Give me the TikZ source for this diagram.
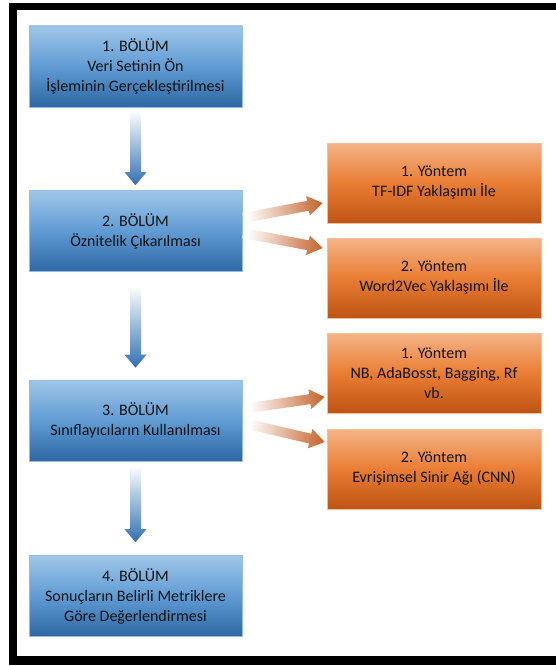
\documentclass[tikz,border=0pt]{standalone}
\usepackage{fontspec}
\setmainfont{Carlito}
\usetikzlibrary{calc}
\definecolor{bluetop}{RGB}{160,198,232}
\definecolor{bluemid}{RGB}{96,155,212}
\definecolor{bluebot}{RGB}{46,104,164}
\definecolor{blueedge}{RGB}{150,188,225}
\definecolor{ortop}{RGB}{245,180,135}
\definecolor{ormid}{RGB}{234,125,52}
\definecolor{orbot}{RGB}{190,84,20}
\definecolor{oredge}{RGB}{246,190,150}
\definecolor{arrblue}{RGB}{50,112,178}
\definecolor{arror}{RGB}{200,108,55}
\definecolor{textc}{RGB}{20,20,20}
\newcommand\fatarr[6]{%
  \coordinate (#1#2h) at ($(#2)!#5!(#1)$);
  \path[#6] ($(#1)!#3!90:(#2)$) -- ($(#1#2h)!#3!90:(#2)$) -- ($(#1#2h)!#4!90:(#2)$)
    -- (#2) -- ($(#1#2h)!#4!-90:(#2)$) -- ($(#1#2h)!#3!-90:(#2)$) -- ($(#1)!#3!-90:(#2)$) -- cycle;
}
\tikzset{
  boxtext/.style={rectangle, align=center, inner sep=0pt, text=textc,
    font=\fontsize{16}{20}\selectfont, line width=0.6pt},
  bluebox/.style={boxtext, minimum width=213pt, minimum height=81pt,
    draw=blueedge, top color=bluetop, bottom color=bluebot, middle color=bluemid},
  orbox/.style={boxtext, minimum width=214pt, minimum height=80pt,
    draw=oredge, top color=ortop, bottom color=orbot, middle color=ormid},
  framebar/.style={fill=black},
}
\begin{document}
\begin{tikzpicture}[x=1pt,y=-1pt]
\useasboundingbox (0,0) rectangle (556,666);
\fill[white] (0,0) rectangle (556,666);
% frame
\fill[framebar] (9.3,3.3) rectangle (556,10);
\fill[framebar] (9.3,3.3) rectangle (17.3,665);
\fill[framebar] (9.3,656) rectangle (556,665);
% blue boxes
\node[bluebox] (b1) at (135.5,66.5) {1. BÖLÜM\\Veri Setinin Ön\\İşleminin Gerçekleştirilmesi};
\node[bluebox] (b2) at (135.5,231) {2. BÖLÜM\\Öznitelik Çıkarılması};
\node[bluebox] (b3) at (135.5,420.5) {3. BÖLÜM\\Sınıflayıcıların Kullanılması};
\node[bluebox] (b4) at (135.5,596) {4. BÖLÜM\\Sonuçların Belirli Metriklere\\Göre Değerlendirmesi};
% orange boxes
\node[orbox] (o1) at (434,183) {1. Yöntem\\TF-IDF Yaklaşımı İle};
\node[orbox] (o2) at (434,278) {2. Yöntem\\Word2Vec Yaklaşımı İle};
\node[orbox] (o3) at (434,373) {1. Yöntem\\NB, AdaBosst, Bagging, Rf\\vb.};
\node[orbox] (o4) at (434,469) {2. Yöntem\\Evrişimsel Sinir Ağı (CNN)};
% vertical arrows
\coordinate (s12) at ($(b1.south)+(0,3)$);
\coordinate (e12) at ($(b2.north)+(0,-5)$);
\coordinate (s23) at ($(b2.south)+(0,14)$);
\coordinate (e23) at ($(b3.north)+(0,-12)$);
\coordinate (s34) at ($(b3.south)+(0,4)$);
\coordinate (e34) at ($(b4.north)+(0,-13)$);
\fatarr{s12}{e12}{5.5pt}{11pt}{13pt}{top color=white, bottom color=arrblue}
\fatarr{s23}{e23}{5.5pt}{11pt}{13pt}{top color=white, bottom color=arrblue}
\fatarr{s34}{e34}{5.5pt}{11pt}{13pt}{top color=white, bottom color=arrblue}
% slanted arrows
\coordinate (sa1) at ($(b2.east)+(1,-13)$);
\coordinate (ea1) at ($(o1.west)+(-4,20)$);
\coordinate (sa2) at ($(b2.east)+(1,2)$);
\coordinate (ea2) at ($(o2.west)+(-4,-30)$);
\coordinate (sb1) at ($(b3.east)+(3,-12)$);
\coordinate (eb1) at ($(o3.west)+(-2,24)$);
\coordinate (sb2) at ($(b3.east)+(3,3)$);
\coordinate (eb2) at ($(o4.west)+(-2,-27)$);
\fatarr{sa1}{ea1}{5pt}{10pt}{15pt}{left color=white, right color=arror, shading angle=100}
\fatarr{sa2}{ea2}{5pt}{10pt}{15pt}{left color=white, right color=arror, shading angle=80}
\fatarr{sb1}{eb1}{5pt}{10pt}{15pt}{left color=white, right color=arror, shading angle=100}
\fatarr{sb2}{eb2}{5pt}{10pt}{15pt}{left color=white, right color=arror, shading angle=80}
\end{tikzpicture}
\end{document}
